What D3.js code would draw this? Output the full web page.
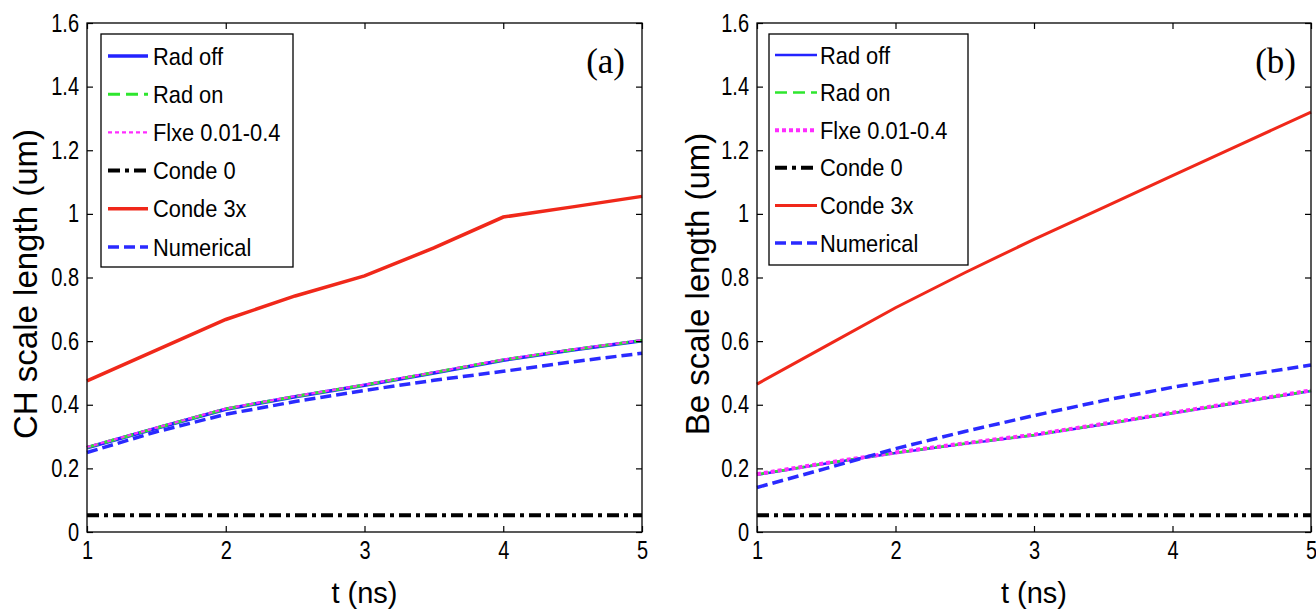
<!DOCTYPE html>
<html>
<head>
<meta charset="utf-8">
<script src="https://cdn.jsdelivr.net/npm/d3@7/dist/d3.min.js"></script>
<style>
    body { margin: 0; background: #fff; }
    svg { display: block; }
</style>
</head>
<body>
<div id="chart"></div>
<script>
// sample times (ns)
var timeNs = [1, 1.5, 2, 2.5, 3, 3.5, 4, 4.5, 5];

var seriesNames = ["Rad off", "Rad on", "Flxe 0.01-0.4", "Conde 0", "Conde 3x", "Numerical"];

// panel (a): CH scale length (um)
var chRadOff    = [0.265, 0.326, 0.386, 0.425, 0.461, 0.500, 0.540, 0.572, 0.601];
var chRadOn     = [0.266, 0.327, 0.387, 0.426, 0.462, 0.501, 0.541, 0.573, 0.602];
var chFlxe      = [0.267, 0.328, 0.388, 0.427, 0.463, 0.502, 0.542, 0.574, 0.603];
var chConde0    = [0.053, 0.053, 0.053, 0.053, 0.053, 0.053, 0.053, 0.053, 0.053];
var chConde3x   = [0.475, 0.572, 0.668, 0.742, 0.805, 0.893, 0.990, 1.022, 1.055];
var chNumerical = [0.250, 0.315, 0.370, 0.410, 0.445, 0.477, 0.505, 0.535, 0.562];

// panel (b): Be scale length (um)
var beRadOff    = [0.180, 0.215, 0.248, 0.277, 0.304, 0.338, 0.373, 0.408, 0.443];
var beRadOn     = [0.181, 0.216, 0.249, 0.278, 0.305, 0.339, 0.374, 0.409, 0.444];
var beFlxe      = [0.182, 0.217, 0.250, 0.279, 0.306, 0.340, 0.375, 0.410, 0.445];
var beConde0    = [0.053, 0.053, 0.053, 0.053, 0.053, 0.053, 0.053, 0.053, 0.053];
var beConde3x   = [0.465, 0.585, 0.705, 0.815, 0.920, 1.020, 1.120, 1.220, 1.320];
var beNumerical = [0.140, 0.200, 0.262, 0.316, 0.366, 0.413, 0.455, 0.491, 0.525];

var xTicks = [1, 2, 3, 4, 5];
var xTickLabels = ["1", "2", "3", "4", "5"];
var yTicks = [0, 0.2, 0.4, 0.6, 0.8, 1, 1.2, 1.4, 1.6];
var yTickLabels = ["0", "0.2", "0.4", "0.6", "0.8", "1", "1.2", "1.4", "1.6"];

var colors = ["#2323ff", "#2ee62e", "#ff2cff", "#000000", "#f0281a", "#2a2aff"];

var svg = d3.select("#chart")
    .append("svg")
    .attr("width", 1316)
    .attr("height", 612);

drawPanel({
    left: 87, right: 642, top: 23, bottom: 532,
    data: [chRadOff, chRadOn, chFlxe, chConde0, chConde3x, chNumerical],
    widths: [3.5, 3, 2.2, 4, 3.5, 3.5],
    dashes: [null, "12,6", "4,3", "12,5,4,5", null, "11,5"],
    yLabel: "CH scale length (um)",
    yLabelX: 37,
    tag: "(a)", tagX: 625,
    legend: {x: 101, y: 34, w: 192, h: 233, first: 56, step: 38.2, lineX1: 108, lineX2: 148, textX: 153}
});

drawPanel({
    left: 757, right: 1311, top: 23, bottom: 532,
    data: [beRadOff, beRadOn, beFlxe, beConde0, beConde3x, beNumerical],
    widths: [2.5, 2.5, 4, 4, 3, 3.5],
    dashes: [null, "12,6", "4,3", "12,5,4,5", null, "11,5"],
    yLabel: "Be scale length (um)",
    yLabelX: 709,
    tag: "(b)", tagX: 1296,
    legend: {x: 769, y: 34, w: 199, h: 231, first: 55, step: 37.6, lineX1: 775, lineX2: 817, textX: 820}
});

function drawPanel(p) {
    var x = d3.scaleLinear().domain([1, 5]).range([p.left, p.right]);
    var y = d3.scaleLinear().domain([0, 1.6]).range([p.bottom, p.top]);

    var g = svg.append("g");

    // lines first, axes box on top
    var line = d3.line()
        .x(function(d, i) { return x(timeNs[i]); })
        .y(function(d) { return y(d); });

    g.selectAll("path.series")
        .data(p.data)
        .enter()
        .append("path")
        .attr("class", "series")
        .attr("d", function(d) { return line(d); })
        .style("fill", "none")
        .style("stroke", function(d, i) { return colors[i]; })
        .style("stroke-width", function(d, i) { return p.widths[i]; })
        .style("stroke-dasharray", function(d, i) { return p.dashes[i]; });

    // bottom axis, ticks inward
    var bottomAxis = g.append("g")
        .attr("transform", "translate(0," + p.bottom + ")")
        .call(d3.axisBottom(x).tickValues(xTicks).tickSize(-6).tickPadding(9)
            .tickFormat(function(d, i) { return xTickLabels[i]; }));
    var topAxis = g.append("g")
        .attr("transform", "translate(0," + p.top + ")")
        .call(d3.axisTop(x).tickValues(xTicks).tickSize(-6).tickFormat(""));
    var leftAxis = g.append("g")
        .attr("transform", "translate(" + p.left + ",0)")
        .call(d3.axisLeft(y).tickValues(yTicks).tickSize(-6).tickPadding(8)
            .tickFormat(function(d, i) { return yTickLabels[i]; }));
    var rightAxis = g.append("g")
        .attr("transform", "translate(" + p.right + ",0)")
        .call(d3.axisRight(y).tickValues(yTicks).tickSize(-6).tickFormat(""));

    [bottomAxis, topAxis, leftAxis, rightAxis].forEach(function(a) {
        a.select(".domain").remove();
        a.selectAll("line").style("stroke", "#000").style("stroke-width", 1.2);
    });

    bottomAxis.selectAll("text")
        .style("font-family", "'Liberation Sans', Arial, sans-serif")
        .style("font-size", "25px")
        .style("fill", "#000")
        .attr("transform", "scale(0.8,1)");
    leftAxis.selectAll("text")
        .style("font-family", "'Liberation Sans', Arial, sans-serif")
        .style("font-size", "25px")
        .style("fill", "#000")
        .attr("x", -8 / 0.8)
        .attr("transform", "scale(0.8,1)");

    g.append("rect")
        .attr("x", p.left)
        .attr("y", p.top)
        .attr("width", p.right - p.left)
        .attr("height", p.bottom - p.top)
        .style("fill", "none")
        .style("stroke", "#000")
        .style("stroke-width", 1.3);

    // axis titles
    var midY = 284;
    g.append("text")
        .attr("x", p.yLabelX)
        .attr("y", midY)
        .attr("transform", "rotate(-90," + p.yLabelX + "," + midY + ")")
        .attr("text-anchor", "middle")
        .style("font-family", "'Liberation Sans', Arial, sans-serif")
        .style("font-size", "33px")
        .text(p.yLabel);

    g.append("text")
        .attr("x", (p.left + p.right) / 2)
        .attr("y", 603)
        .attr("text-anchor", "middle")
        .style("font-family", "'Liberation Sans', Arial, sans-serif")
        .style("font-size", "29px")
        .text("t (ns)");

    g.append("text")
        .attr("x", p.tagX)
        .attr("y", 73)
        .attr("text-anchor", "end")
        .style("font-family", "'Liberation Serif', 'Times New Roman', serif")
        .style("font-size", "35px")
        .text(p.tag);

    // legend
    var L = p.legend;
    g.append("rect")
        .attr("x", L.x)
        .attr("y", L.y)
        .attr("width", L.w)
        .attr("height", L.h)
        .style("fill", "#fff")
        .style("stroke", "#000")
        .style("stroke-width", 1.3);

    var entries = g.selectAll("g.entry")
        .data(seriesNames)
        .enter()
        .append("g")
        .attr("class", "entry")
        .attr("transform", function(d, i) {
            return "translate(0," + (L.first + i * L.step) + ")";
        });

    entries.append("line")
        .attr("x1", L.lineX1)
        .attr("x2", L.lineX2)
        .attr("y1", 0)
        .attr("y2", 0)
        .style("stroke", function(d, i) { return colors[i]; })
        .style("stroke-width", function(d, i) { return p.widths[i]; })
        .style("stroke-dasharray", function(d, i) { return p.dashes[i]; });

    entries.append("text")
        .attr("x", L.textX / 0.91)
        .attr("y", 0)
        .attr("dy", "0.36em")
        .attr("transform", "scale(0.91,1)")
        .style("font-family", "'Liberation Sans', Arial, sans-serif")
        .style("font-size", "24px")
        .text(function(d) { return d; });
}
</script>
</body>
</html>
